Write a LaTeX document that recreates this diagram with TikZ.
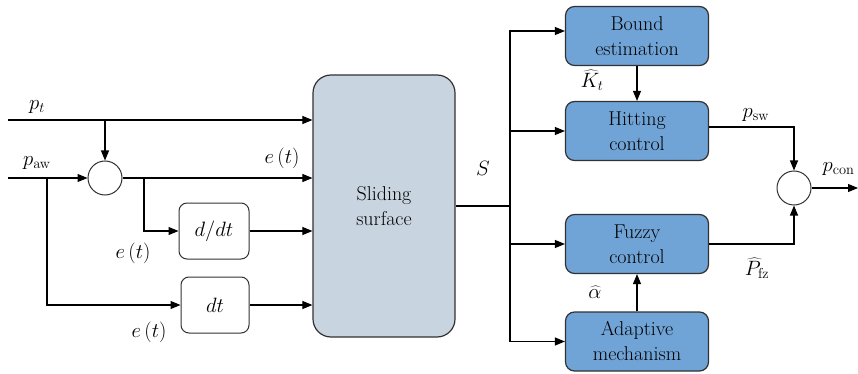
\documentclass[tikz,border=0pt]{standalone}
\usetikzlibrary{arrows.meta}
\definecolor{blockblue}{RGB}{112,163,214}
\definecolor{surfgray}{RGB}{200,213,224}
\definecolor{edgegray}{RGB}{50,50,50}
\tikzset{
  arr/.style={-{Triangle[length=10pt,width=8pt]}},
  ctrlbox/.style={draw=edgegray, line width=1.2pt, fill=blockblue, rounded corners=9pt,
    minimum width=143pt, minimum height=59pt, align=center, inner sep=0pt},
  opbox/.style={draw=edgegray, line width=1pt, fill=white, rounded corners=8pt,
    minimum height=56pt, inner sep=0pt},
  sumcirc/.style={draw=edgegray, line width=1pt, circle, fill=white, minimum size=34pt, inner sep=0pt},
}
\begin{document}
\begin{tikzpicture}[x=1pt, y=-1pt, line width=1.1pt, font=\fontsize{20}{25}\selectfont]
\useasboundingbox (0,0) rectangle (858,374);
% blocks
\node[draw=edgegray, line width=1.2pt, fill=surfgray, rounded corners=18pt,
  minimum width=142pt, minimum height=262pt, align=center] (slide) at (384,206) {Sliding\\surface};
\node[sumcirc] (sum1) at (105,178) {};
\node[opbox, minimum width=70pt] (deriv) at (214,231) {$d/dt$};
\node[opbox, minimum width=68pt] (integ) at (215,305) {$dt$};
\node[ctrlbox] (bound) at (637,36) {Bound\\estimation};
\node[ctrlbox] (hit) at (637,131) {Hitting\\control};
\node[ctrlbox] (fuzzy) at (637,244) {Fuzzy\\control};
\node[ctrlbox] (adapt) at (637,341.5) {Adaptive\\mechanism};
\node[sumcirc] (sum2) at (794,188) {};
% inputs
\coordinate (ptin) at (8,120);
\coordinate (pawin) at (8,178);
\coordinate (br1) at (144,178);
\coordinate (br2) at (47,178);
\draw[arr] (ptin) -- (ptin -| slide.west);
\draw[arr] (ptin -| sum1) -- (sum1.north);
\draw[arr] (pawin) -- (sum1.west);
\draw[arr] (sum1.east) -- (sum1.east -| slide.west);
\draw[arr] (br1) |- (deriv.west);
\draw[arr] (br2) |- (integ.west);
\draw[arr] (deriv.east) -- (deriv.east -| slide.west);
\draw[arr] (integ.east) -- (integ.east -| slide.west);
% sliding variable bus
\coordinate (bus) at (510,206);
\draw (slide.east) -- (bus);
\draw[arr] (bus) |- ([yshift=5pt]bound.west);
\draw[arr] (bus) |- (hit.west);
\draw[arr] (bus) |- (fuzzy.west);
\draw[arr] (bus) |- (adapt.west);
\draw[arr] (bound.south) -- (hit.north);
\draw[arr] (adapt.north) -- (fuzzy.south);
\draw[arr] ([yshift=4pt]hit.east) -| (sum2.north);
\draw[arr] (fuzzy.east) -| (sum2.south);
\coordinate (out) at (858,188);
\draw[arr] (sum2.east) -- (out);
% labels
\node (lpt) at (37,107) {$p_t$};
\node (lpaw) at (37,163) {$p_{\mathrm{aw}}$};
\node (le1) at (282,158) {$e\,(t)$};
\node (le2) at (133,253) {$e\,(t)$};
\node (le3) at (149,332) {$e\,(t)$};
\node (lS) at (483,168) {$S$};
\node (lK) at (592,80) {$\widehat{K}_t$};
\node (lsw) at (756,115) {$p_{\mathrm{sw}}$};
\node (lfz) at (757,268) {$\widehat{P}_{\mathrm{fz}}$};
\node (lal) at (595,292) {$\widehat{\alpha}$};
\node[anchor=west, inner sep=0pt] (lcon) at (822,169) {$p_{\mathrm{con}}$};
\end{tikzpicture}
\end{document}
